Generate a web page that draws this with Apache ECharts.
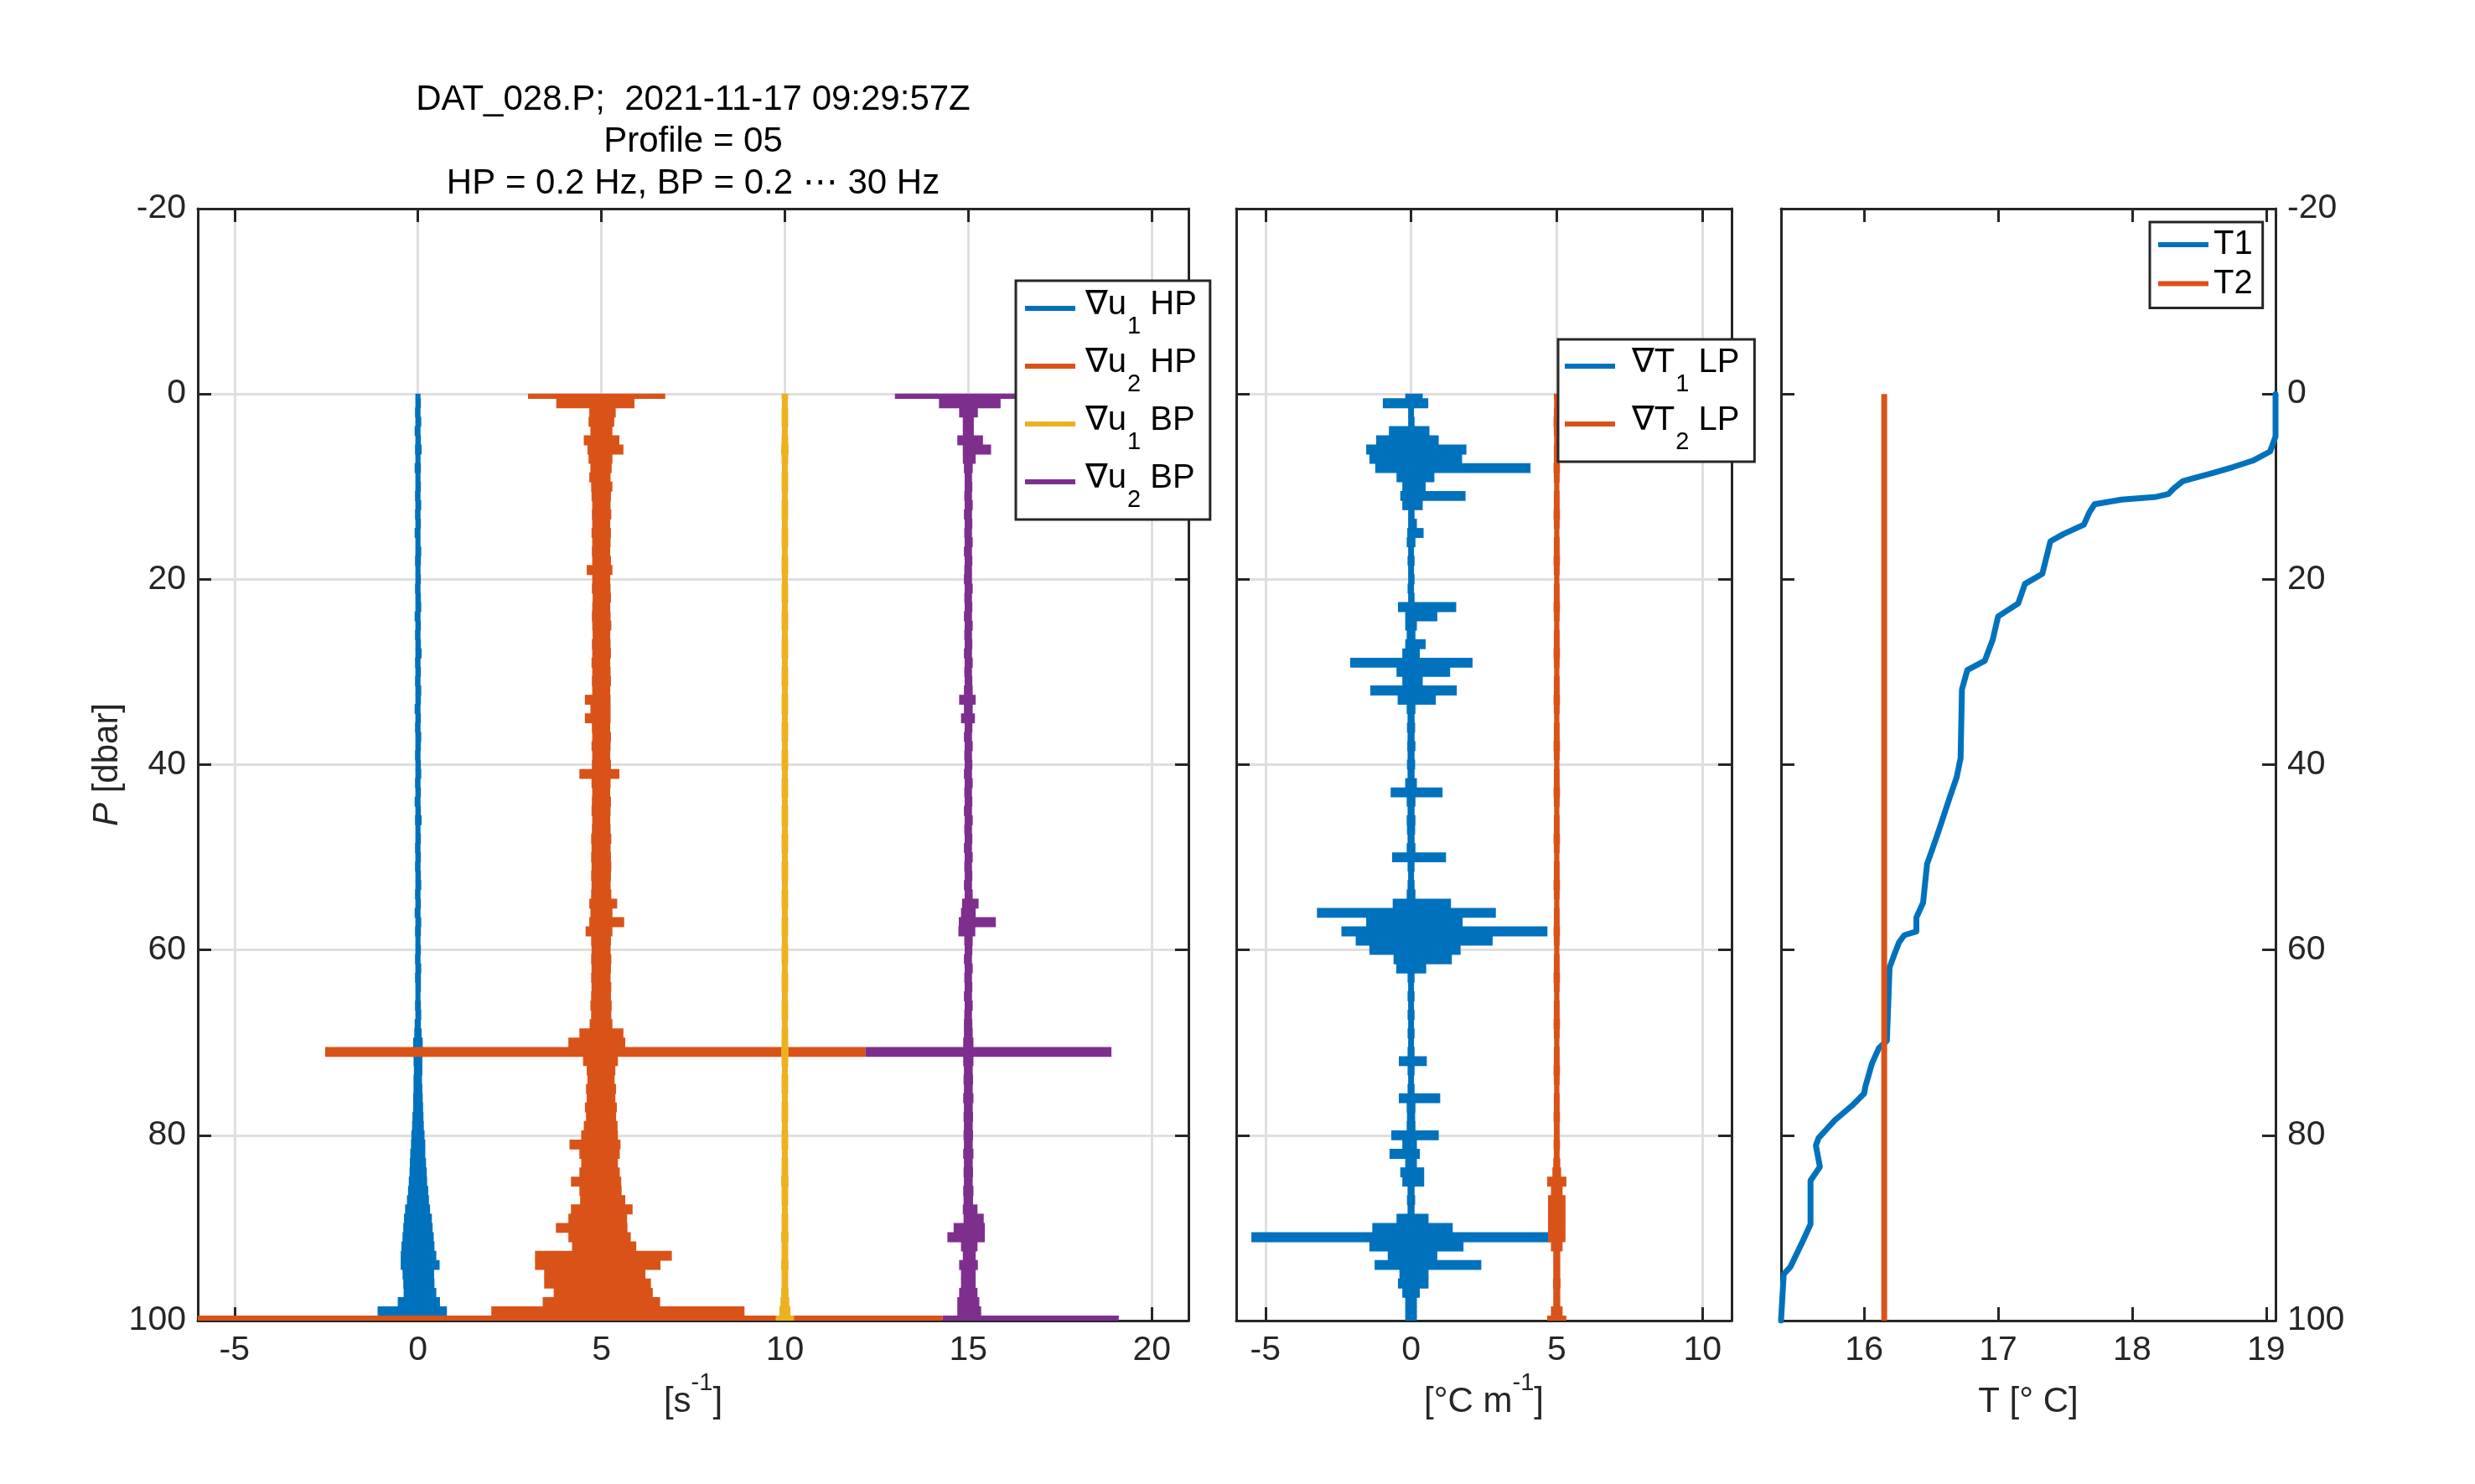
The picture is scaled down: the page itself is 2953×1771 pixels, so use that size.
<!DOCTYPE html>
<html>
<head>
<meta charset="utf-8">
<script src="https://cdn.jsdelivr.net/npm/echarts@6.0.0/dist/echarts.min.js"></script>
<style>
html,body{margin:0;padding:0;background:#fff;}
#chart{width:2953px;height:1771px;}
</style>
</head>
<body>
<div id="chart"></div>
<script>
// ---------------- DATA ----------------
// Pressure bins [dbar], 1-dbar resolution, 0..100
const pressureLevels = Array.from({length: 101}, (_, i) => i);

// Panel 1: shear probes, envelope (low / high deviation from each trace's offset) per pressure bin
const shearOffsets = {u1HP: 0, u2HP: 5, u1BP: 10, u2BP: 15};
const shearTicks = [-5, 0, 5, 10, 15, 20];

const u1HP_hi = [
  0.07,0.08,0.07,0.09,0.07,0.08,0.10,0.07,0.08,0.07,
  0.08,0.07,0.09,0.07,0.08,0.07,0.07,0.09,0.08,0.07,
  0.08,0.07,0.08,0.09,0.07,0.08,0.07,0.08,0.10,0.07,
  0.08,0.07,0.09,0.08,0.07,0.08,0.07,0.09,0.08,0.07,
  0.08,0.09,0.07,0.08,0.07,0.08,0.10,0.07,0.08,0.07,
  0.08,0.07,0.08,0.09,0.07,0.08,0.07,0.09,0.08,0.07,
  0.08,0.07,0.09,0.08,0.08,0.07,0.08,0.09,0.08,0.10,
  0.13,0.15,0.12,0.12,0.11,0.12,0.13,0.14,0.15,0.16,
  0.18,0.20,0.20,0.22,0.24,0.25,0.28,0.30,0.33,0.38,
  0.40,0.43,0.45,0.50,0.59,0.44,0.45,0.50,0.60,0.79,
  1.00];
const u1HP_lo = [
  -0.07,-0.07,-0.08,-0.07,-0.09,-0.07,-0.08,-0.07,-0.09,-0.07,
  -0.07,-0.08,-0.07,-0.08,-0.07,-0.09,-0.07,-0.07,-0.08,-0.07,
  -0.07,-0.08,-0.07,-0.07,-0.09,-0.07,-0.08,-0.07,-0.07,-0.08,
  -0.07,-0.08,-0.07,-0.07,-0.09,-0.07,-0.08,-0.07,-0.07,-0.08,
  -0.07,-0.07,-0.08,-0.07,-0.09,-0.07,-0.08,-0.07,-0.07,-0.08,
  -0.07,-0.08,-0.07,-0.07,-0.08,-0.07,-0.09,-0.07,-0.08,-0.07,
  -0.07,-0.08,-0.07,-0.08,-0.07,-0.07,-0.08,-0.07,-0.09,-0.10,
  -0.13,-0.15,-0.12,-0.11,-0.12,-0.12,-0.13,-0.13,-0.15,-0.16,
  -0.18,-0.19,-0.21,-0.22,-0.23,-0.25,-0.27,-0.30,-0.35,-0.38,
  -0.40,-0.42,-0.45,-0.47,-0.47,-0.42,-0.40,-0.39,-0.55,-1.10,
  -2.50];

const u2HP_hi = [
  1.74,0.90,0.39,0.35,0.30,0.49,0.60,0.30,0.28,0.25,
  0.30,0.26,0.25,0.27,0.24,0.26,0.25,0.24,0.26,0.30,
  0.24,0.25,0.26,0.24,0.25,0.27,0.24,0.25,0.26,0.24,
  0.25,0.26,0.24,0.25,0.25,0.25,0.24,0.26,0.25,0.24,
  0.26,0.49,0.25,0.24,0.26,0.25,0.24,0.25,0.27,0.25,
  0.26,0.27,0.26,0.25,0.27,0.43,0.30,0.62,0.30,0.26,
  0.25,0.27,0.26,0.25,0.27,0.26,0.28,0.27,0.30,0.60,
  0.65,7.20,0.45,0.38,0.36,0.40,0.38,0.42,0.40,0.44,
  0.45,0.52,0.50,0.45,0.50,0.54,0.55,0.65,0.85,0.70,
  0.71,0.80,0.95,1.92,1.61,1.20,1.35,1.40,1.60,3.90,
  9.30];
const u2HP_lo = [
  -2.00,-1.23,-0.33,-0.35,-0.30,-0.48,-0.38,-0.35,-0.30,-0.33,
  -0.28,-0.27,-0.25,-0.26,-0.25,-0.27,-0.25,-0.26,-0.25,-0.40,
  -0.25,-0.26,-0.24,-0.25,-0.26,-0.25,-0.24,-0.26,-0.25,-0.27,
  -0.25,-0.26,-0.25,-0.45,-0.30,-0.45,-0.26,-0.25,-0.27,-0.25,
  -0.26,-0.60,-0.27,-0.25,-0.26,-0.27,-0.25,-0.26,-0.28,-0.27,
  -0.28,-0.27,-0.28,-0.27,-0.28,-0.33,-0.30,-0.33,-0.43,-0.28,
  -0.27,-0.28,-0.27,-0.28,-0.27,-0.28,-0.30,-0.28,-0.32,-0.60,
  -0.90,-7.53,-0.50,-0.40,-0.38,-0.42,-0.40,-0.45,-0.42,-0.48,
  -0.55,-0.87,-0.60,-0.55,-0.60,-0.83,-0.60,-0.58,-0.83,-0.90,
  -1.24,-0.90,-0.80,-1.81,-1.81,-1.56,-1.56,-1.30,-1.60,-3.00,
  -11.50];

// symmetric half width
const u1BP_half = [
  0.09,0.08,0.09,0.09,0.08,0.09,0.10,0.09,0.08,0.09,
  0.09,0.08,0.09,0.09,0.08,0.09,0.09,0.08,0.09,0.09,
  0.08,0.09,0.09,0.08,0.09,0.09,0.08,0.09,0.09,0.08,
  0.09,0.09,0.08,0.09,0.09,0.08,0.09,0.09,0.08,0.09,
  0.09,0.08,0.09,0.09,0.08,0.09,0.09,0.08,0.09,0.09,
  0.08,0.09,0.09,0.08,0.09,0.09,0.08,0.09,0.09,0.08,
  0.09,0.09,0.08,0.09,0.09,0.08,0.09,0.09,0.08,0.09,
  0.09,0.10,0.09,0.08,0.09,0.09,0.08,0.09,0.09,0.08,
  0.09,0.09,0.08,0.09,0.09,0.10,0.09,0.09,0.08,0.09,
  0.09,0.10,0.09,0.09,0.10,0.09,0.09,0.10,0.12,0.15,
  0.25];

const u2BP_hi = [
  1.50,0.88,0.26,0.15,0.15,0.40,0.62,0.20,0.12,0.10,
  0.11,0.10,0.12,0.10,0.11,0.10,0.12,0.10,0.11,0.10,
  0.10,0.12,0.10,0.11,0.10,0.12,0.10,0.11,0.10,0.12,
  0.10,0.11,0.12,0.20,0.12,0.18,0.11,0.10,0.12,0.10,
  0.11,0.10,0.12,0.10,0.11,0.10,0.12,0.10,0.11,0.10,
  0.12,0.10,0.11,0.10,0.12,0.28,0.20,0.75,0.19,0.12,
  0.11,0.10,0.12,0.10,0.11,0.10,0.12,0.10,0.11,0.12,
  0.14,3.90,0.14,0.12,0.13,0.12,0.14,0.12,0.13,0.12,
  0.13,0.12,0.14,0.12,0.13,0.12,0.14,0.13,0.25,0.42,
  0.45,0.45,0.25,0.20,0.26,0.20,0.20,0.25,0.30,0.35,
  4.10];
const u2BP_lo = [
  -2.00,-0.80,-0.25,-0.15,-0.15,-0.30,-0.15,-0.15,-0.12,-0.10,
  -0.10,-0.11,-0.10,-0.12,-0.10,-0.11,-0.10,-0.12,-0.10,-0.11,
  -0.12,-0.10,-0.11,-0.10,-0.12,-0.10,-0.11,-0.10,-0.12,-0.10,
  -0.11,-0.10,-0.12,-0.25,-0.12,-0.20,-0.10,-0.12,-0.10,-0.11,
  -0.10,-0.12,-0.10,-0.11,-0.10,-0.12,-0.10,-0.11,-0.10,-0.12,
  -0.10,-0.11,-0.10,-0.12,-0.10,-0.17,-0.20,-0.26,-0.27,-0.11,
  -0.10,-0.12,-0.10,-0.11,-0.10,-0.12,-0.10,-0.11,-0.12,-0.12,
  -0.14,-2.80,-0.14,-0.12,-0.13,-0.12,-0.14,-0.12,-0.13,-0.12,
  -0.13,-0.12,-0.14,-0.12,-0.13,-0.12,-0.14,-0.13,-0.15,-0.13,
  -0.40,-0.57,-0.20,-0.15,-0.25,-0.20,-0.20,-0.25,-0.30,-0.30,
  -0.70];

// Panel 2: temperature gradients
const gradOffsets = {T1: 0, T2: 5};
const gradTicks = [-5, 0, 5, 10];

const gT1_hi = [
  0.40,0.59,0.10,0.12,0.63,0.95,1.90,1.75,4.10,0.80,
  0.50,1.87,0.40,0.12,0.20,0.43,0.15,0.10,0.12,0.10,
  0.12,0.10,0.12,1.55,0.90,0.20,0.15,0.50,0.30,2.11,
  1.34,0.40,1.57,0.85,0.15,0.12,0.14,0.12,0.15,0.12,
  0.14,0.12,0.20,1.08,0.15,0.12,0.15,0.14,0.12,0.15,
  1.20,0.12,0.10,0.12,0.15,1.37,2.91,1.77,4.68,2.80,
  1.70,1.40,0.52,0.12,0.10,0.12,0.10,0.12,0.10,0.12,
  0.10,0.12,0.54,0.12,0.10,0.12,1.00,0.15,0.14,0.15,
  0.95,0.20,0.30,0.20,0.45,0.45,0.12,0.14,0.12,0.60,
  1.43,4.79,1.80,0.90,2.41,0.60,0.60,0.30,0.20,0.20,
  0.20];
const gT1_lo = [
  -0.20,-0.97,-0.10,-0.10,-0.76,-1.20,-1.54,-1.43,-1.23,-0.50,
  -0.30,-0.37,-0.30,-0.10,-0.10,-0.13,-0.15,-0.10,-0.12,-0.10,
  -0.10,-0.12,-0.10,-0.45,-0.20,-0.20,-0.15,-0.20,-0.30,-2.09,
  -0.50,-0.30,-1.40,-0.46,-0.15,-0.12,-0.14,-0.12,-0.13,-0.12,
  -0.14,-0.12,-0.20,-0.70,-0.15,-0.12,-0.15,-0.14,-0.12,-0.15,
  -0.65,-0.12,-0.10,-0.12,-0.15,-0.63,-3.23,-1.54,-2.39,-1.90,
  -1.43,-0.60,-0.51,-0.12,-0.10,-0.12,-0.10,-0.12,-0.10,-0.12,
  -0.10,-0.12,-0.42,-0.12,-0.10,-0.12,-0.42,-0.15,-0.14,-0.15,
  -0.68,-0.30,-0.74,-0.20,-0.37,-0.30,-0.12,-0.14,-0.12,-0.50,
  -1.33,-5.48,-1.43,-0.80,-1.25,-0.40,-0.45,-0.30,-0.20,-0.20,
  -0.20];
const gT2_half = [
  0.10,0.09,0.10,0.11,0.10,0.09,0.10,0.10,0.11,0.10,
  0.09,0.10,0.10,0.11,0.10,0.09,0.10,0.10,0.11,0.10,
  0.09,0.10,0.10,0.11,0.10,0.09,0.10,0.10,0.11,0.10,
  0.09,0.10,0.10,0.11,0.10,0.09,0.10,0.10,0.11,0.10,
  0.09,0.10,0.10,0.11,0.10,0.09,0.10,0.10,0.11,0.10,
  0.09,0.10,0.10,0.11,0.10,0.09,0.10,0.10,0.11,0.10,
  0.09,0.10,0.10,0.11,0.10,0.09,0.10,0.10,0.11,0.10,
  0.09,0.10,0.10,0.11,0.10,0.09,0.10,0.10,0.11,0.10,
  0.10,0.11,0.10,0.12,0.15,0.33,0.20,0.30,0.30,0.30,
  0.30,0.30,0.20,0.12,0.12,0.12,0.13,0.12,0.12,0.20,
  0.33];

// Panel 3: temperature profiles
const t1Pressure = [0, 4.6, 6.2, 7.2, 7.9, 8.5, 9.4, 10.2, 10.8, 11.1, 11.4, 11.9, 12.8, 14.1, 15.1, 15.9, 19.4,
  20.5, 22.6, 24.0, 26.5, 28.8, 29.8, 31.9, 39.3, 41.4, 43.5, 47.0, 49.5, 50.7, 54.9, 56.5, 58.0, 58.4,
  59.2, 60.7, 61.9, 69.8, 70.6, 72.2, 74.7, 75.5, 76.8, 78.4, 80.3, 81.1, 83.4, 84.9, 89.6, 91.5, 94.2, 95.0, 100];
const t1Temp = [19.07, 19.07, 19.03, 18.90, 18.75, 18.61, 18.38, 18.31, 18.27, 18.18, 17.92, 17.72, 17.68, 17.64, 17.49, 17.39, 17.33,
  17.20, 17.15, 17.00, 16.96, 16.90, 16.77, 16.73, 16.72, 16.69, 16.64, 16.56, 16.50, 16.47, 16.44, 16.39, 16.39, 16.30,
  16.26, 16.22, 16.19, 16.17, 16.11, 16.06, 16.01, 16.00, 15.91, 15.78, 15.66, 15.64, 15.67, 15.60, 15.60, 15.54, 15.45, 15.40, 15.38];
const t2Pressure = [0, 100];
const t2Temp = [16.15, 16.15];
const tempTicks = [16, 17, 18, 19];

const pressureTicksInterval = 20;

// ---------------- CHART ----------------
const AX = '#262626';
const FONT = '"Liberation Sans", Arial, Helvetica, "DejaVu Sans", sans-serif';
const COL = {blue: '#0072BD', orange: '#D95319', yellow: '#EDB120', purple: '#7E2F8E'};

function envelope(offset, lo, hi) {
  return pressureLevels.map((p, i) => [offset + lo[i], offset + hi[i], p]);
}
function envelopeSym(offset, half) {
  return pressureLevels.map((p, i) => [offset - half[i], offset + half[i], p]);
}
function pairs(xs, ps) { return xs.map((x, i) => [x, ps[i]]); }

function renderProfile(params, api) {
  const lo = api.value(0), hi = api.value(1), p = api.value(2);
  const a = api.coord([lo, Math.max(0, p - 0.5)]);
  const b = api.coord([hi, Math.min(100, p + 0.5)]);
  let x = Math.min(a[0], b[0]), w = Math.abs(b[0] - a[0]);
  let y = Math.min(a[1], b[1]) - 0.4, h = Math.abs(b[1] - a[1]) + 0.8;
  const minW = 5;
  if (w < minW) { x -= (minW - w) / 2; w = minW; }
  const cs = params.coordSys;
  const shape = echarts.graphic.clipRectByRect({x: x, y: y, width: w, height: h},
    {x: cs.x, y: cs.y, width: cs.width, height: cs.height});
  if (!shape) return null;
  return {type: 'rect', shape: shape, style: {fill: api.visual('color')}};
}

function profileSeries(name, data, color, xi, yi) {
  return {
    name: name, type: 'custom', xAxisIndex: xi, yAxisIndex: yi,
    renderItem: renderProfile, data: data,
    encode: {x: [0, 1], y: 2},
    itemStyle: {color: color}, color: color, silent: true, animation: false
  };
}

const axisLine = {show: true, onZero: false, lineStyle: {color: AX, width: 3}};
const tick = {show: true, inside: true, length: 16, lineStyle: {color: AX, width: 3}};
const gridLine = {show: true, lineStyle: {color: '#dfdfdf', width: 3}};
const labelStyle = {color: AX, fontSize: 41, fontFamily: FONT};

const nameRich = {
  a: {fontSize: 42, fontFamily: FONT, color: AX, lineHeight: 58, verticalAlign: 'bottom'},
  p: {fontSize: 29, fontFamily: FONT, color: AX, lineHeight: 29, verticalAlign: 'top'},
  i: {fontSize: 42, fontFamily: FONT, color: AX, fontStyle: 'italic', lineHeight: 58, verticalAlign: 'bottom'}
};

function xBottom(gi, min, max, ticks, name, split) {
  return {
    type: 'value', gridIndex: gi, position: 'bottom', min: min, max: max,
    axisLine: axisLine, axisTick: Object.assign({}, tick, {customValues: ticks}),
    axisLabel: Object.assign({customValues: ticks, margin: 15}, labelStyle),
    splitLine: split ? gridLine : {show: false},
    name: name, nameLocation: 'middle', nameGap: 60,
    nameTextStyle: {rich: nameRich}
  };
}
function xTop(gi, min, max, ticks) {
  return {
    type: 'value', gridIndex: gi, position: 'top', min: min, max: max,
    axisLine: axisLine, axisTick: Object.assign({}, tick, {customValues: ticks}),
    axisLabel: {show: false, customValues: ticks}, splitLine: {show: false}
  };
}
function yAx(gi, pos, showLabel, split, extra) {
  return Object.assign({
    type: 'value', gridIndex: gi, position: pos, inverse: true,
    min: -20, max: 100, interval: pressureTicksInterval,
    axisLine: axisLine, axisTick: tick,
    axisLabel: Object.assign({show: showLabel, margin: 14, showMinLabel: true, showMaxLabel: true}, labelStyle),
    splitLine: split ? gridLine : {show: false}
  }, extra || {});
}

const legendRich = {
  n: {fontSize: 40, fontFamily: FONT, color: '#000', lineHeight: 48, verticalAlign: 'top', padding: [0, 0, 0, 7]},
  m: {fontSize: 40, fontFamily: FONT, color: '#000', lineHeight: 48, verticalAlign: 'top', padding: [0, 0, 0, 15]},
  a: {fontSize: 40, fontFamily: FONT, color: '#000', lineHeight: 48, verticalAlign: 'top'},
  s: {fontSize: 29, fontFamily: FONT, color: '#000', lineHeight: 29, verticalAlign: 'top', padding: [31, 0, 0, 1]},
  t: {fontSize: 40, fontFamily: FONT, color: '#000', lineHeight: 44, padding: [0, 0, 0, 1]}
};
const legendLabels = {
  '∇u1 HP': '{n|∇u}{s|1}{a| HP}',
  '∇u2 HP': '{n|∇u}{s|2}{a| HP}',
  '∇u1 BP': '{n|∇u}{s|1}{a| BP}',
  '∇u2 BP': '{n|∇u}{s|2}{a| BP}',
  '∇T1 LP': '{m|∇T}{s|1}{a| LP}',
  '∇T2 LP': '{m|∇T}{s|2}{a| LP}',
  'T1': '{t|T1}',
  'T2': '{t|T2}'
};
function legendBox(names, left, top, gap, padding) {
  return {
    show: true, orient: 'vertical', left: left, top: top,
    data: names.map(n => ({name: n, icon: 'rect'})),
    itemWidth: 60, itemHeight: 6, itemGap: gap, padding: padding,
    borderColor: AX, borderWidth: 3, backgroundColor: '#fff', borderRadius: 0,
    selectedMode: false,
    formatter: n => legendLabels[n],
    textStyle: {fontSize: 40, fontFamily: FONT, color: '#000', rich: legendRich}
  };
}

const option = {
  backgroundColor: '#fff',
  animation: false,
  grid: [
    {left: 236, top: 249, width: 1182, height: 1327, outerBoundsMode: 'none'},
    {left: 1475, top: 249, width: 591, height: 1327, outerBoundsMode: 'none'},
    {left: 2125, top: 249, width: 590, height: 1327, outerBoundsMode: 'none'}
  ],
  xAxis: [
    xBottom(0, -6, 21, shearTicks, '{a|[s}{p|-1}{a|]}', true),
    xTop(0, -6, 21, shearTicks),
    xBottom(1, -6, 11, gradTicks, '{a|[°C m}{p|-1}{a|]}', true),
    xTop(1, -6, 11, gradTicks),
    xBottom(2, 15.38, 19.07, tempTicks, '{a|T [° C]}', false),
    xTop(2, 15.38, 19.07, tempTicks)
  ],
  yAxis: [
    yAx(0, 'left', true, true, {name: '{i|P}{a| [dbar]}', nameLocation: 'middle', nameGap: 86, nameTextStyle: {rich: nameRich}}),
    yAx(0, 'right', false, false),
    yAx(1, 'left', false, true),
    yAx(1, 'right', false, false),
    yAx(2, 'left', false, false),
    yAx(2, 'right', true, false)
  ],
  legend: [
    legendBox(['∇u1 HP', '∇u2 HP', '∇u1 BP', '∇u2 BP'], 1212, 335, 9, [9, 16, 9, 11]),
    legendBox(['∇T1 LP', '∇T2 LP'], 1859, 405, 9, [8, 18, 9, 8]),
    legendBox(['T1', 'T2'], 2565, 265, 6.5, [7, 12, 9, 10])
  ],
  graphic: [{
    type: 'text', x: 827, y: 94, silent: true,
    style: {
      text: 'DAT_028.P;  2021-11-17 09:29:57Z\nProfile = 05\nHP = 0.2 Hz, BP = 0.2 ⋯ 30 Hz',
      fontSize: 42, fontFamily: FONT, fill: '#000', align: 'center', verticalAlign: 'top', lineHeight: 50
    }
  }],
  series: [
    profileSeries('∇u1 HP', envelope(shearOffsets.u1HP, u1HP_lo, u1HP_hi), COL.blue, 0, 0),
    profileSeries('∇u2 HP', envelope(shearOffsets.u2HP, u2HP_lo, u2HP_hi), COL.orange, 0, 0),
    profileSeries('∇u1 BP', envelopeSym(shearOffsets.u1BP, u1BP_half), COL.yellow, 0, 0),
    profileSeries('∇u2 BP', envelope(shearOffsets.u2BP, u2BP_lo, u2BP_hi), COL.purple, 0, 0),
    profileSeries('∇T1 LP', envelope(gradOffsets.T1, gT1_lo, gT1_hi), COL.blue, 2, 2),
    profileSeries('∇T2 LP', envelopeSym(gradOffsets.T2, gT2_half), COL.orange, 2, 2),
    {name: 'T1', type: 'line', xAxisIndex: 4, yAxisIndex: 4, data: pairs(t1Temp, t1Pressure),
     showSymbol: false, symbol: 'none', lineStyle: {color: COL.blue, width: 7, join: 'round', cap: 'round'}, itemStyle: {color: COL.blue}, silent: true},
    {name: 'T2', type: 'line', xAxisIndex: 4, yAxisIndex: 4, data: pairs(t2Temp, t2Pressure),
     showSymbol: false, symbol: 'none', lineStyle: {color: COL.orange, width: 7}, itemStyle: {color: COL.orange}, silent: true}
  ]
};

const chart = echarts.init(document.getElementById('chart'));
chart.setOption(option);
</script>
</body>
</html>
